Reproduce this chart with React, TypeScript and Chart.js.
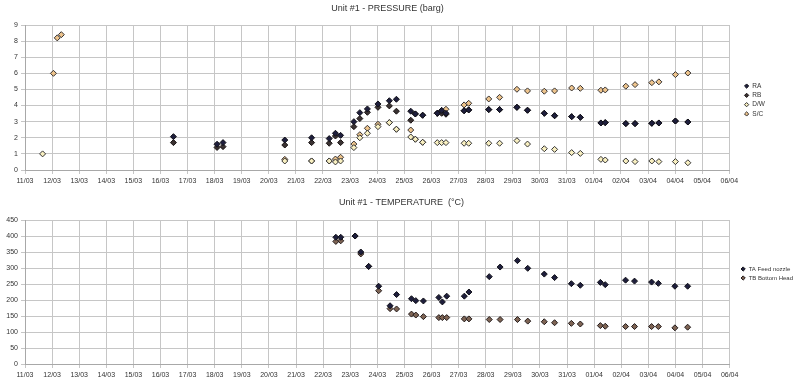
import React, { useEffect, useRef } from 'react';
import { Chart, registerables } from 'chart.js';

Chart.register(...registerables);

// ---- data ----
const dateLabels = [
  '11/03', '12/03', '13/03', '14/03', '15/03', '16/03', '17/03', '18/03', '19/03', '20/03',
  '21/03', '22/03', '23/03', '24/03', '25/03', '26/03', '27/03', '28/03', '29/03', '30/03',
  '31/03', '01/04', '02/04', '03/04', '04/04', '05/04', '06/04',
];

// days elapsed since 11/03 00:00
const pressureDays = [
  0.65, 1.05, 1.19, 1.34, 5.48, 7.09, 7.31, 9.59, 10.58, 11.23,
  11.46, 11.65, 12.14, 12.36, 12.64, 13.03, 13.45, 13.71, 14.24, 14.41,
  14.68, 15.22, 15.38, 15.54, 16.21, 16.38, 17.12, 17.52, 18.16, 18.55,
  19.17, 19.55, 20.18, 20.5, 21.26, 21.42, 22.18, 22.52, 23.14, 23.4,
  24.01, 24.47,
];
const raPressure = [
  null, null, null, null, 2.07, 1.6, 1.7, 1.86, 2.0, 1.95,
  2.28, 2.15, 3.0, 3.56, 3.79, 4.1, 4.3, 4.39, 3.65, 3.48,
  3.4, 3.52, 3.7, 3.52, 3.68, 3.73, 3.75, 3.75, 3.89, 3.71,
  3.52, 3.37, 3.31, 3.27, 2.92, 2.94, 2.88, 2.88, 2.9, 2.92,
  3.04, 2.98,
];
const rbPressure = [
  null, null, null, null, 1.7, 1.4, 1.45, 1.55, 1.7, 1.66,
  2.11, 1.7, 2.69, 3.19, 3.58, 3.89, 3.98, 3.65, 3.09, 3.48,
  3.4, 3.52, 3.52, 3.46, 3.68, 3.73, 3.75, 3.75, 3.89, 3.71,
  3.52, 3.37, 3.31, 3.27, 2.92, 2.94, 2.88, 2.88, 2.9, 2.92,
  3.04, 2.98,
];
const dwPressure = [
  1.0, null, null, null, null, null, null, 0.56, 0.56, 0.56,
  0.5, 0.56, 1.39, 2.0, 2.28, 2.69, 2.94, 2.53, 2.05, 1.91,
  1.72, 1.7, 1.7, 1.7, 1.66, 1.66, 1.66, 1.66, 1.82, 1.61,
  1.32, 1.28, 1.08, 1.03, 0.66, 0.62, 0.56, 0.52, 0.56, 0.52,
  0.52, 0.45,
];
const scPressure = [
  null, 6.0, 8.2, 8.4, null, null, null, 0.66, 0.56, 0.56,
  0.68, 0.79, 1.61, 2.19, 2.59, 2.84, 2.94, 2.53, 2.48, 1.91,
  1.72, 3.52, 3.7, 3.77, 4.04, 4.14, 4.41, 4.51, 5.01, 4.91,
  4.89, 4.91, 5.09, 5.07, 4.95, 4.97, 5.2, 5.3, 5.42, 5.47,
  5.92, 6.02,
];

const temperatureDays = [
  11.47, 11.65, 12.18, 12.39, 12.68, 13.05, 13.47, 13.71, 14.26, 14.42,
  14.7, 15.27, 15.4, 15.56, 16.21, 16.38, 17.13, 17.53, 18.17, 18.55,
  19.16, 19.54, 20.16, 20.49, 21.23, 21.41, 22.16, 22.49, 23.12, 23.37,
  23.98, 24.45,
];
const taTemperature = [
  396, 396, 400, 350, 305, 243, 182, 217, 204, 198,
  197, 208, 194, 212, 212, 225, 273, 303, 323, 299,
  281, 270, 251, 246, 255, 248, 262, 259, 256, 252,
  243, 243,
];
const tbTemperature = [
  383, 385, 400, 344, 305, 229, 173, 172, 156, 153,
  148, 145, 145, 145, 141, 141, 139, 139, 139, 134,
  132, 129, 127, 125, 120, 118, 117, 117, 117, 117,
  113, 115,
];

// ---- styling ----
const FONT = "'Liberation Sans', Arial, sans-serif";
const GRID = '#c6c6c6';
const TEXT = '#333333';

function toPoints(days: number[], vals: (number | null)[]) {
  const out: { x: number; y: number }[] = [];
  days.forEach((d, i) => {
    const v = vals[i];
    if (v !== null && v !== undefined) out.push({ x: d, y: v });
  });
  return out;
}

function series(label: string, data: any[], fill: string, border: string) {
  return {
    label,
    data,
    pointStyle: 'rectRot',
    pointRadius: 3,
    pointHoverRadius: 3,
    borderWidth: 1,
    backgroundColor: fill,
    borderColor: border,
    showLine: false,
  };
}

function makeOptions(p: {
  title: string;
  yMax: number;
  yStep: number;
  titleTop: number;
  titleBottom: number;
  xHeight: number;
  gap: number;
  padRight: number;
  legendFont: number;
  legendPad: number;
  legendOffset: number;
}) {
  return {
    responsive: false,
    animation: false,
    devicePixelRatio: 1,
    layout: { padding: { left: 0, top: 0, bottom: 0, right: p.padRight } },
    plugins: {
      title: {
        display: true,
        text: p.title,
        color: TEXT,
        font: { family: FONT, size: 9, weight: 'normal' },
        padding: { top: p.titleTop, bottom: p.titleBottom },
      },
      legend: {
        position: 'right',
        align: 'start',
        title: {
          display: true,
          text: '',
          font: { family: FONT, size: 1 },
          padding: { top: p.legendOffset - 1.2, bottom: 0 },
        },
        labels: {
          usePointStyle: true,
          pointStyle: 'rectRot',
          boxWidth: 5,
          boxHeight: 3,
          padding: p.legendPad,
          color: TEXT,
          font: { family: FONT, size: p.legendFont },
        },
      },
      tooltip: { enabled: false },
    },
    scales: {
      x: {
        type: 'linear',
        min: 0,
        max: dateLabels.length - 1,
        ticks: {
          stepSize: 1,
          autoSkip: false,
          maxRotation: 0,
          padding: 3,
          color: TEXT,
          font: { family: FONT, size: 7 },
          callback: (v: number) => dateLabels[Math.round(v)] ?? '',
        },
        grid: { color: GRID, tickLength: 4 },
        border: { color: '#a8a8a8' },
        afterFit: (s: any) => {
          s.height = p.xHeight;
        },
      },
      y: {
        type: 'linear',
        min: 0,
        max: p.yMax,
        ticks: {
          stepSize: p.yStep,
          padding: 3,
          color: TEXT,
          font: { family: FONT, size: 7 },
        },
        grid: { color: GRID, tickLength: 4 },
        border: { color: '#a8a8a8' },
        afterFit: (s: any) => {
          s.width = 25;
        },
      },
      gap: {
        type: 'linear',
        position: 'right',
        display: true,
        grid: { display: false, drawTicks: false },
        ticks: { display: false },
        border: { display: false },
        afterFit: (s: any) => {
          s.width = p.gap;
        },
      },
    },
  };
}

function ChartCanvas({ build, height, top }: { build: () => any; height: number; top: number }) {
  const ref = useRef<HTMLCanvasElement | null>(null);
  useEffect(() => {
    if (!ref.current) return;
    const chart = new Chart(ref.current, build());
    return () => chart.destroy();
  }, []);
  return (
    <canvas
      ref={ref}
      width={800}
      height={height}
      style={{ position: 'absolute', left: 0, top, width: 800, height }}
    />
  );
}

const buildPressure = () => ({
  type: 'scatter',
  data: {
    datasets: [
      series('RA', toPoints(pressureDays, raPressure), '#1e1e3c', '#111118'),
      series('RB', toPoints(pressureDays, rbPressure), '#3a3232', '#181212'),
      series('D/W', toPoints(pressureDays, dwPressure), '#f8efc0', '#333333'),
      series('S/C', toPoints(pressureDays, scPressure), '#eec48c', '#333030'),
    ],
  },
  options: makeOptions({
    title: 'Unit #1 - PRESSURE (barg)',
    yMax: 9,
    yStep: 1,
    titleTop: 3,
    titleBottom: 11.2,
    xHeight: 20,
    gap: 12,
    padRight: 25,
    legendFont: 6.5,
    legendPad: 2.8,
    legendOffset: 80,
  }),
});

const buildTemperature = () => ({
  type: 'scatter',
  data: {
    datasets: [
      series('TA Feed nozzle', toPoints(temperatureDays, taTemperature), '#1e1e3c', '#111118'),
      series('TB Bottom Head', toPoints(temperatureDays, tbTemperature), '#7e6454', '#221a1a'),
    ],
  },
  options: makeOptions({
    title: 'Unit #1 - TEMPERATURE  (°C)',
    yMax: 450,
    yStep: 50,
    titleTop: 7.6,
    titleBottom: 11.6,
    xHeight: 25,
    gap: 8,
    padRight: -3,
    legendFont: 6,
    legendPad: 3,
    legendOffset: 73,
  }),
});

export default function App() {
  return (
    <div
      style={{
        position: 'fixed',
        left: 0,
        top: 0,
        width: 800,
        height: 389,
        background: '#ffffff',
        overflow: 'hidden',
      }}
    >
      <ChartCanvas build={buildPressure} height={190} top={0} />
      <ChartCanvas build={buildTemperature} height={199} top={190} />
    </div>
  );
}
